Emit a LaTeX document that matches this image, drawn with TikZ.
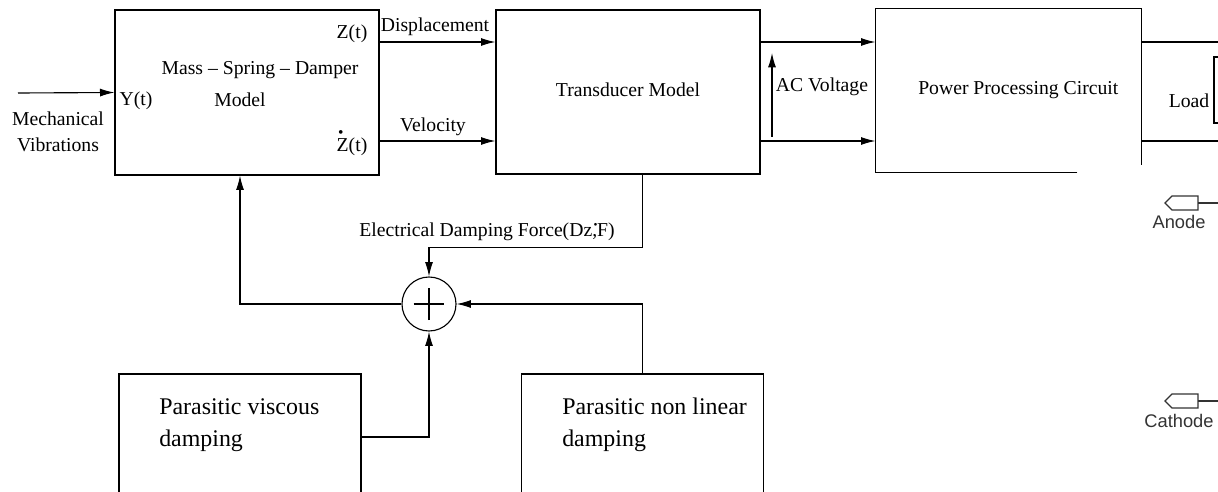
\documentclass[tikz,border=0pt]{standalone}
\usepackage{fontspec}
\setmainfont{Liberation Serif}
\newfontfamily\termfont{Liberation Sans}
\usetikzlibrary{arrows.meta,positioning,calc}

\begin{document}
\begin{tikzpicture}[x=0.025cm, y=-0.025cm,
  bbox/.style={draw, line width=0.8pt, inner sep=0pt, minimum width=6.6cm, minimum height=4.1cm},
  pbox/.style={draw, line width=0.8pt, inner sep=0pt, minimum width=6.05cm, minimum height=3.15cm},
  txt/.style={font=\fontsize{14}{18.4}\selectfont, inner sep=0pt, anchor=base},
  ptxt/.style={font=\fontsize{17}{22.7}\selectfont, inner sep=0pt, align=left, anchor=north west},
  ttxt/.style={font=\termfont\fontsize{13}{15}\selectfont, text=black!80, inner sep=0pt, anchor=base},
  line/.style={line width=0.8pt},
  arrow/.style={-{Latex[length=3.6mm,width=2mm]}, line width=0.8pt}
]
\useasboundingbox (0,0) rectangle (1218,492);
\clip (0,0) rectangle (1218,492);

\node[bbox, minimum height=4.125cm] (msd) at (247,92.5) {};
\node[bbox] (tm) at (628,92) {\raisebox{4pt}{\fontsize{14}{16}\selectfont Transducer Model}};
\node[bbox, draw=none, minimum width=6.625cm, minimum height=4.075cm] (ppc) at (1008.5,90.5)
  {\raisebox{3pt}{\fontsize{14}{16}\selectfont\hspace*{14pt}Power Processing Circuit}};
\node[draw, circle, line width=0.8pt, minimum size=1.35cm, inner sep=0pt] (sum) at (429,304) {};
\node[pbox] (pvd) at (240,437) {};
\node[pbox] (pnd) at (642.5,437) {};
\node[draw, line width=0.8pt, minimum width=1.3cm, minimum height=1.65cm, inner sep=0pt] (load) at (1240,90) {};

\node[txt, anchor=north, align=center] (mv) at (58,112) {Mechanical\\Vibrations};
\node[txt] (yt) at (136,106) {Y(t)};
\node[txt] (zt) at (352,39) {Z(t)};
\node[txt] (zdt) at (352,152) {\rlap{\raisebox{10.5pt}{\kern1pt\fontsize{11}{11}\selectfont •}}Z(t)};
\node[txt] (msd1) at (260,75) {Mass -- Spring -- Damper};
\node[txt] (msd2) at (240,107) {Model};
\node[txt] (dl) at (435,32) {Displacement};
\node[txt] (vl) at (433,132) {Velocity};
\node[txt] (acl) at (822,92) {AC Voltage};
\node[txt] (ll) at (1189,108) {Load};
\node[txt] (edl) at (487,237) {Electrical Damping Force(Dz,\rlap{\raisebox{6pt}{\kern-2.5pt\fontsize{8}{8}\selectfont •}}F)};
\node[ptxt] (pvdl) at (159,398) {Parasitic viscous\\damping};
\node[ptxt] (pndl) at (562,398) {Parasitic non linear\\damping};

\coordinate (in) at (18,93);
\coordinate (dsp) at (379,42);
\coordinate (vel) at (379,141);
\coordinate (acb) at (772,137);
\coordinate (act) at (772,53);

\draw[arrow] (in) -- (msd.west);
\draw[arrow] (dsp) -- (dsp -| tm.west);
\draw[arrow] (vel) -- (vel -| tm.west);
\draw[arrow] (tm.east |- dsp) -- (ppc.west |- dsp);
\draw[arrow] (tm.east |- vel) -- (ppc.west |- vel);
\draw[arrow] (acb) -- (act);
\draw[line] ($(ppc.south west)+(202,0)$) -- (ppc.south west) -- (ppc.north west) -- (ppc.north east) -- ++(0,157);
\draw[line] (ppc.east |- dsp) -- ++(90,0);
\draw[line] (ppc.east |- vel) -- ++(90,0);

\draw[arrow] (pnd.north |- tm.south) -- ++(0,73) -| (sum.north);
\draw[arrow] (sum.west) -| (msd.south -| pvd.north);
\draw[arrow] (pvd.east) -| (sum.south);
\draw[arrow] (pnd.north) |- (sum.east);
\draw[line] ([xshift=-11pt]sum.center) -- ([xshift=11pt]sum.center);
\draw[line] ([yshift=-11.5pt]sum.center) -- ([yshift=11.5pt]sum.center);

\foreach \y/\t in {203/Anode, 401/Cathode} {
  \draw[line, black!80] (1198,\y-7) -- (1172,\y-7) -- (1165,\y) -- (1172,\y+7) -- (1198,\y+7) -- cycle;
  \draw[line, black!80] (1198,\y) -- ++(30,0);
  \node[ttxt] (t\y) at (1179,\y+26) {\t};
}
\end{tikzpicture}
\end{document}
